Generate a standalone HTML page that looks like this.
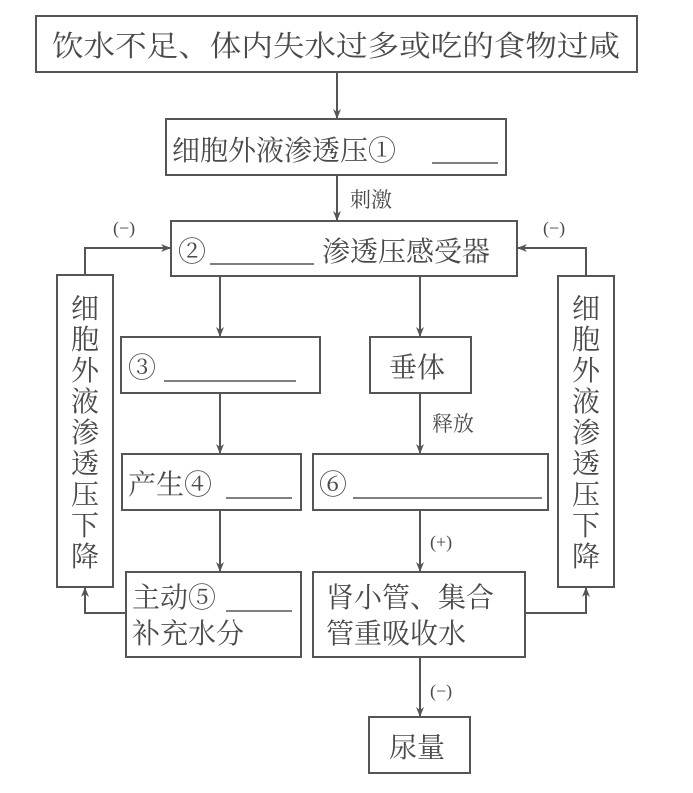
<!DOCTYPE html>
<html><head><meta charset="utf-8"><style>
html,body{margin:0;padding:0;background:#fff;}
svg text{font-family:"Liberation Serif","Noto Serif CJK SC","Noto Sans CJK SC",serif;fill:#4a4a4a;}
</style></head><body>
<svg width="693" height="788" viewBox="0 0 693 788" xmlns="http://www.w3.org/2000/svg">
<defs><marker id="a" markerWidth="10" markerHeight="10" refX="9" refY="5" orient="auto" markerUnits="userSpaceOnUse"><path d="M0,1 L10,5 L0,9 L3,5 Z" fill="#555"/></marker></defs>
<g fill="none" stroke="#555" stroke-width="2">
<rect x="36" y="16" width="601" height="56"/>
<rect x="166" y="119" width="340" height="56"/>
<rect x="171" y="221" width="346" height="55"/>
<rect x="57" y="275" width="56" height="312"/>
<rect x="558" y="276" width="56" height="311"/>
<rect x="121" y="337" width="199" height="56"/>
<rect x="370" y="337" width="101" height="56"/>
<rect x="122" y="454" width="179" height="56"/>
<rect x="313" y="454" width="235" height="56"/>
<rect x="126" y="572" width="175" height="85"/>
<rect x="313" y="572" width="212" height="85"/>
<rect x="369" y="717" width="101" height="56"/>
<line x1="337" y1="72" x2="337" y2="118" marker-end="url(#a)"/>
<line x1="337" y1="175" x2="337" y2="220" marker-end="url(#a)"/>
<polyline points="85,275 85,248 170,248" marker-end="url(#a)"/>
<polyline points="586,276 586,248 518,248" marker-end="url(#a)"/>
<line x1="220" y1="276" x2="220" y2="336" marker-end="url(#a)"/>
<line x1="420" y1="276" x2="420" y2="336" marker-end="url(#a)"/>
<line x1="220" y1="393" x2="220" y2="453" marker-end="url(#a)"/>
<line x1="420" y1="393" x2="420" y2="453" marker-end="url(#a)"/>
<line x1="220" y1="510" x2="220" y2="571" marker-end="url(#a)"/>
<line x1="420" y1="510" x2="420" y2="571" marker-end="url(#a)"/>
<polyline points="126,613 85,613 85,588" marker-end="url(#a)"/>
<polyline points="525,613 586,613 586,588" marker-end="url(#a)"/>
<line x1="420" y1="657" x2="420" y2="716" marker-end="url(#a)"/>
<line x1="432" y1="163" x2="498" y2="163" stroke-width="1.5"/>
<line x1="210" y1="264" x2="314" y2="264" stroke-width="1.5"/>
<line x1="164" y1="381" x2="296" y2="381" stroke-width="1.5"/>
<line x1="226" y1="498" x2="292" y2="498" stroke-width="1.5"/>
<line x1="353" y1="498" x2="542" y2="498" stroke-width="1.5"/>
<line x1="226" y1="611" x2="292" y2="611" stroke-width="1.5"/>
</g>
<text x="52" y="56" font-size="29" textLength="568" lengthAdjust="spacingAndGlyphs">饮水不足、体内失水过多或吃的食物过咸</text>
<text x="172" y="160" font-size="28">细胞外液渗透压①</text>
<text x="350" y="207" font-size="21">刺激</text>
<text x="113" y="234" font-size="18">(−)</text>
<text x="543" y="234" font-size="18">(−)</text>
<text x="178" y="261" font-size="28">②</text>
<text x="322" y="261" font-size="28">渗透压感受器</text>
<text x="128" y="377" font-size="28">③</text>
<text x="389" y="377" font-size="28">垂体</text>
<text x="432" y="431" font-size="21">释放</text>
<text x="128" y="494" font-size="28">产生④</text>
<text x="319" y="494" font-size="28">⑥</text>
<text x="430" y="548" font-size="18">(+)</text>
<text x="132" y="607" font-size="28">主动⑤</text>
<text x="132" y="643" font-size="28">补充水分</text>
<text x="326" y="607" font-size="28">肾小管、集合</text>
<text x="326" y="643" font-size="28">管重吸收水</text>
<text x="430" y="697" font-size="18">(−)</text>
<text x="389" y="757" font-size="28">尿量</text>
<g font-size="28" text-anchor="middle">
<text x="85" y="318">细</text><text x="85" y="349">胞</text><text x="85" y="380">外</text><text x="85" y="411">液</text><text x="85" y="442">渗</text><text x="85" y="473">透</text><text x="85" y="504">压</text><text x="85" y="535">下</text><text x="85" y="566">降</text>
<text x="586" y="318">细</text><text x="586" y="349">胞</text><text x="586" y="380">外</text><text x="586" y="411">液</text><text x="586" y="442">渗</text><text x="586" y="473">透</text><text x="586" y="504">压</text><text x="586" y="535">下</text><text x="586" y="566">降</text>
</g>
</svg>
</body></html>
